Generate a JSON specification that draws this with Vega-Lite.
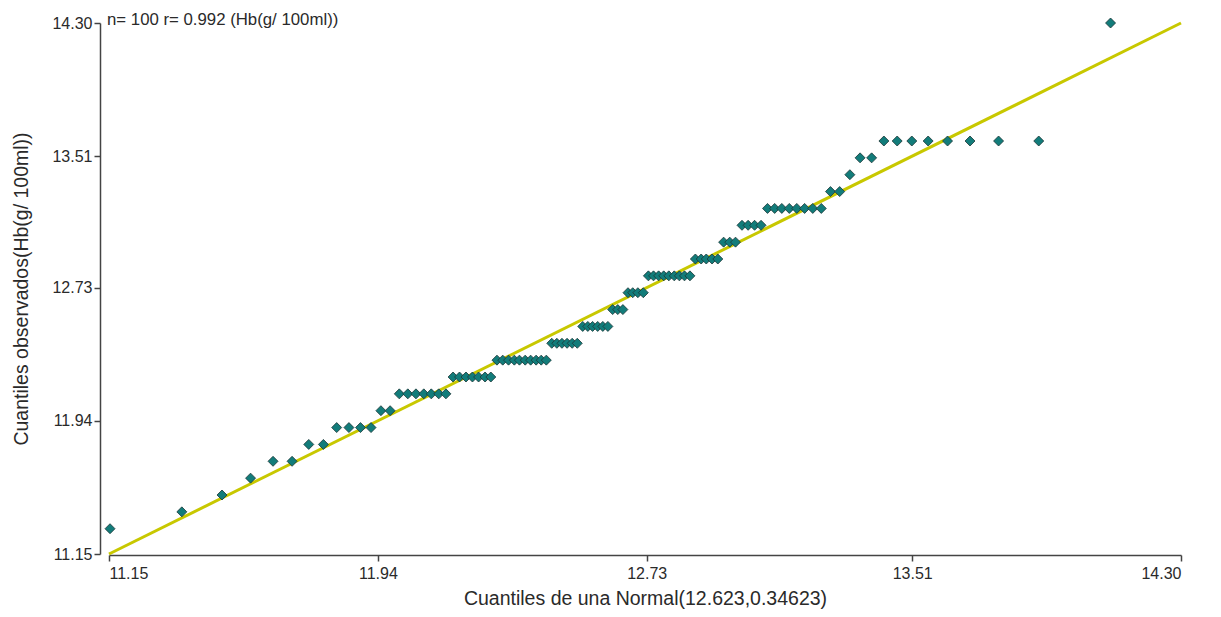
{
  "$schema": "https://vega.github.io/schema/vega-lite/v6.json",
  "autosize": {"type": "none"},
  "padding": {"left": 109, "top": 23, "right": 40, "bottom": 63},
  "width": 1072,
  "height": 531,
  "background": "white",
  "config": {
    "view": {"stroke": null},
    "font": "Liberation Sans",
    "axis": {"grid": false, "labelFont": "Liberation Sans", "titleFont": "Liberation Sans", "titleFontWeight": "normal", "domainColor": "#444444", "tickColor": "#444444", "domainWidth": 1.5, "tickWidth": 1.5, "tickSize": 6, "labelColor": "#2a2a2a", "titleColor": "#2a2a2a", "labelFontSize": 16, "titleFontSize": 19.5}
  },
  "datasets": {
    "qq": [
      {"q": 11.153, "v": 11.3}, {"q": 11.364, "v": 11.4}, {"q": 11.482, "v": 11.5}, {"q": 11.566, "v": 11.6},
      {"q": 11.632, "v": 11.7}, {"q": 11.688, "v": 11.7}, {"q": 11.737, "v": 11.8}, {"q": 11.780, "v": 11.8},
      {"q": 11.819, "v": 11.9}, {"q": 11.855, "v": 11.9}, {"q": 11.889, "v": 11.9}, {"q": 11.920, "v": 11.9},
      {"q": 11.949, "v": 12.0}, {"q": 11.976, "v": 12.0},
      {"q": 12.003, "v": 12.1}, {"q": 12.028, "v": 12.1}, {"q": 12.052, "v": 12.1}, {"q": 12.075, "v": 12.1}, {"q": 12.097, "v": 12.1}, {"q": 12.119, "v": 12.1}, {"q": 12.140, "v": 12.1},
      {"q": 12.161, "v": 12.2}, {"q": 12.180, "v": 12.2}, {"q": 12.199, "v": 12.2}, {"q": 12.218, "v": 12.2}, {"q": 12.236, "v": 12.2}, {"q": 12.255, "v": 12.2}, {"q": 12.272, "v": 12.2},
      {"q": 12.290, "v": 12.3}, {"q": 12.307, "v": 12.3}, {"q": 12.324, "v": 12.3}, {"q": 12.341, "v": 12.3}, {"q": 12.356, "v": 12.3}, {"q": 12.373, "v": 12.3}, {"q": 12.389, "v": 12.3}, {"q": 12.405, "v": 12.3}, {"q": 12.420, "v": 12.3}, {"q": 12.435, "v": 12.3},
      {"q": 12.451, "v": 12.4}, {"q": 12.466, "v": 12.4}, {"q": 12.481, "v": 12.4}, {"q": 12.496, "v": 12.4}, {"q": 12.511, "v": 12.4}, {"q": 12.526, "v": 12.4},
      {"q": 12.542, "v": 12.5}, {"q": 12.557, "v": 12.5}, {"q": 12.571, "v": 12.5}, {"q": 12.586, "v": 12.5}, {"q": 12.601, "v": 12.5}, {"q": 12.616, "v": 12.5},
      {"q": 12.630, "v": 12.6}, {"q": 12.645, "v": 12.6}, {"q": 12.660, "v": 12.6},
      {"q": 12.675, "v": 12.7}, {"q": 12.689, "v": 12.7}, {"q": 12.704, "v": 12.7}, {"q": 12.720, "v": 12.7},
      {"q": 12.735, "v": 12.8}, {"q": 12.750, "v": 12.8}, {"q": 12.765, "v": 12.8}, {"q": 12.780, "v": 12.8}, {"q": 12.795, "v": 12.8}, {"q": 12.811, "v": 12.8}, {"q": 12.826, "v": 12.8}, {"q": 12.841, "v": 12.8}, {"q": 12.857, "v": 12.8},
      {"q": 12.873, "v": 12.9}, {"q": 12.890, "v": 12.9}, {"q": 12.905, "v": 12.9}, {"q": 12.922, "v": 12.9}, {"q": 12.939, "v": 12.9},
      {"q": 12.956, "v": 13.0}, {"q": 12.974, "v": 13.0}, {"q": 12.991, "v": 13.0},
      {"q": 13.010, "v": 13.1}, {"q": 13.028, "v": 13.1}, {"q": 13.047, "v": 13.1}, {"q": 13.066, "v": 13.1},
      {"q": 13.085, "v": 13.2}, {"q": 13.106, "v": 13.2}, {"q": 13.127, "v": 13.2}, {"q": 13.149, "v": 13.2}, {"q": 13.171, "v": 13.2}, {"q": 13.194, "v": 13.2}, {"q": 13.218, "v": 13.2}, {"q": 13.243, "v": 13.2},
      {"q": 13.270, "v": 13.3}, {"q": 13.297, "v": 13.3},
      {"q": 13.327, "v": 13.4},
      {"q": 13.357, "v": 13.5}, {"q": 13.391, "v": 13.5},
      {"q": 13.427, "v": 13.6}, {"q": 13.466, "v": 13.6}, {"q": 13.509, "v": 13.6}, {"q": 13.557, "v": 13.6}, {"q": 13.614, "v": 13.6}, {"q": 13.680, "v": 13.6}, {"q": 13.764, "v": 13.6}, {"q": 13.882, "v": 13.6},
      {"q": 14.093, "v": 14.3}
    ],
    "ref": [{"q": 11.15, "v": 11.15}, {"q": 14.30, "v": 14.30}],
    "note": [{"q": 11.15, "v": 14.30, "label": "n= 100 r= 0.992 (Hb(g/ 100ml))"}]
  },
  "layer": [
    {
      "data": {"name": "ref"},
      "mark": {"type": "line", "color": "#c8c800", "strokeWidth": 3, "clip": false},
      "encoding": {
        "x": {"field": "q", "type": "quantitative", "scale": {"domain": [11.15, 14.30], "nice": false, "zero": false},
              "axis": {"values": [11.15, 11.94, 12.73, 13.51, 14.30], "format": ".2f", "title": "Cuantiles de una Normal(12.623,0.34623)", "offset": 1, "labelPadding": 4, "titlePadding": 8}},
        "y": {"field": "v", "type": "quantitative", "scale": {"domain": [11.15, 14.30], "nice": false, "zero": false},
              "axis": {"values": [11.15, 11.94, 12.73, 13.51, 14.30], "format": ".2f", "title": "Cuantiles observados(Hb(g/ 100ml))", "offset": 9, "labelPadding": 2, "titlePadding": 20}}
      }
    },
    {
      "data": {"name": "qq"},
      "mark": {"type": "point", "shape": "diamond", "filled": true, "size": 100, "color": "#127c7a", "stroke": "#1c3636", "strokeWidth": 0.8, "opacity": 1, "clip": false},
      "encoding": {
        "x": {"field": "q", "type": "quantitative"},
        "y": {"field": "v", "type": "quantitative"}
      }
    },
    {
      "data": {"name": "note"},
      "mark": {"type": "text", "align": "left", "baseline": "middle", "dx": -2, "dy": -3, "fontSize": 16.8, "color": "#2a2a2a", "font": "Liberation Sans"},
      "encoding": {
        "x": {"field": "q", "type": "quantitative"},
        "y": {"field": "v", "type": "quantitative"},
        "text": {"field": "label"}
      }
    }
  ]
}
